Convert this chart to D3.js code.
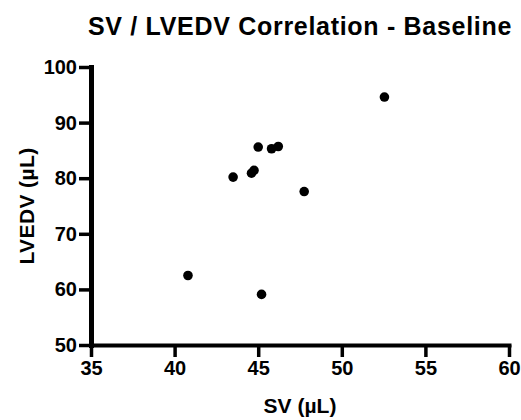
<!DOCTYPE html>
<html>
<head>
<meta charset="utf-8">
<script src="https://cdn.jsdelivr.net/npm/d3@7"></script>
<style>
  html, body { margin: 0; padding: 0; background: #fff; }
  svg { display: block; }
  text { font-family: "Liberation Sans", Arial, sans-serif; font-weight: bold; fill: #000; }
</style>
</head>
<body>
<svg id="chart" width="521" height="420"></svg>
<script>
// Stroke volume vs. LV end-diastolic volume, baseline animals
const svValues = [45.0, 45.8, 46.2, 43.5, 44.6, 44.75, 47.75, 40.8, 45.2, 52.55];
const lvedvValues = [85.6, 85.3, 85.7, 80.2, 80.9, 81.4, 77.6, 62.5, 59.1, 94.6];
const xTicks = [35, 40, 45, 50, 55, 60];
const yTicks = [50, 60, 70, 80, 90, 100];

const titleText = "SV / LVEDV Correlation - Baseline";
const xLabel = "SV (\u00b5L)";
const yLabel = "LVEDV (\u00b5L)";

const svg = d3.select("#chart");
const plot = { left: 91, right: 509, top: 67, bottom: 345 };

const x = d3.scaleLinear().domain([35, 60]).range([plot.left, plot.right]);
const y = d3.scaleLinear().domain([50, 100]).range([plot.bottom, plot.top]);

// x axis
const xAxis = svg.append("g")
  .attr("transform", `translate(0,${plot.bottom})`)
  .call(d3.axisBottom(x).tickValues(xTicks).tickSize(12).tickPadding(4).tickSizeOuter(0));
// y axis
const yAxis = svg.append("g")
  .attr("transform", `translate(${plot.left},0)`)
  .call(d3.axisLeft(y).tickValues(yTicks).tickSize(12).tickPadding(2).tickSizeOuter(0));

xAxis.select(".domain").attr("stroke", "#000").attr("stroke-width", 4).attr("stroke-linecap", "square");
yAxis.select(".domain").attr("stroke", "#000").attr("stroke-width", 5).attr("stroke-linecap", "square");

[xAxis, yAxis].forEach(g => {
  g.selectAll(".tick line").attr("stroke", "#000").attr("stroke-width", 3.5);
  g.selectAll(".tick text")
    .style("font-family", "'Liberation Sans', Arial, sans-serif")
    .style("font-weight", "bold")
    .style("font-size", "20px")
    .attr("fill", "#000");
});

// points
svg.append("g").selectAll("circle")
  .data(svValues.map((v, i) => [v, lvedvValues[i]]))
  .join("circle")
  .attr("cx", d => x(d[0]))
  .attr("cy", d => y(d[1]))
  .attr("r", 4.8)
  .attr("fill", "#000");

// title
svg.append("text")
  .attr("x", (plot.left + plot.right) / 2)
  .attr("y", 35)
  .attr("text-anchor", "middle")
  .style("font-size", "25px")
  .style("letter-spacing", "0.7px")
  .text(titleText);

// axis titles
svg.append("text")
  .attr("x", (plot.left + plot.right) / 2)
  .attr("y", 413)
  .attr("text-anchor", "middle")
  .style("font-size", "21px")
  .text(xLabel);

svg.append("text")
  .attr("transform", `translate(34,${(plot.top + plot.bottom) / 2}) rotate(-90)`)
  .attr("text-anchor", "middle")
  .style("font-size", "21px")
  .style("letter-spacing", "0.4px")
  .text(yLabel);
</script>
</body>
</html>
